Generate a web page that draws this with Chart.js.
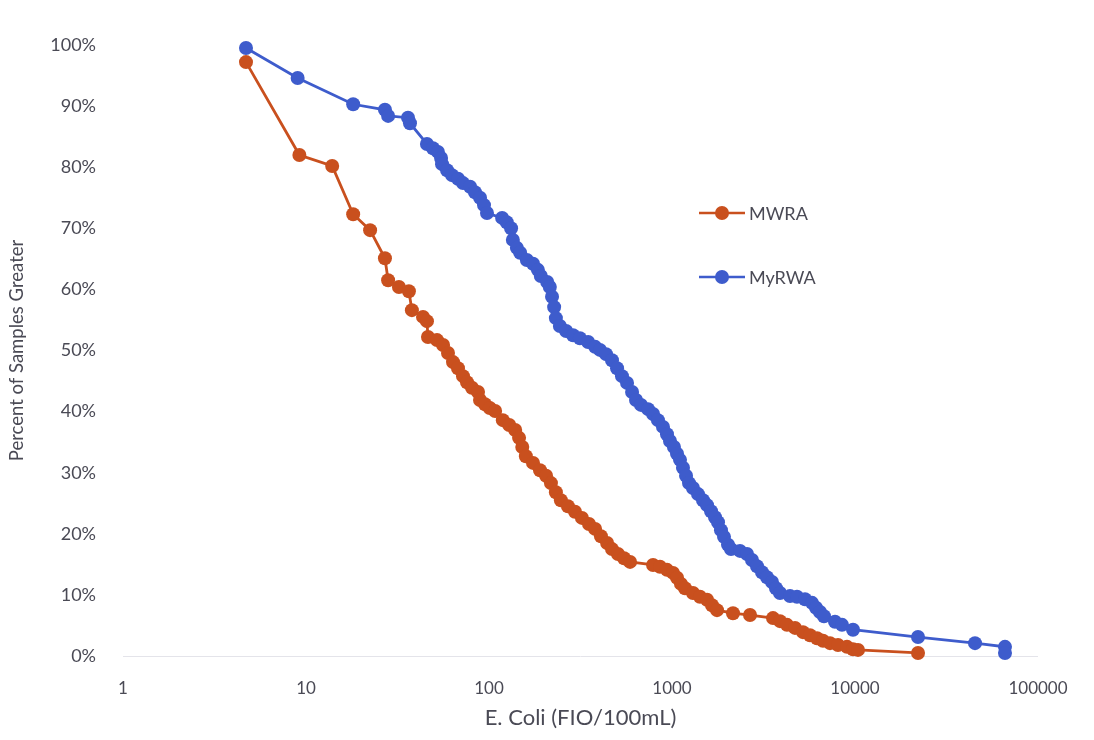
<!DOCTYPE html>
<html>
<head>
<meta charset="utf-8">
<script src="https://cdn.jsdelivr.net/npm/chart.js@4.4.1/dist/chart.umd.min.js"></script>
<style>
  html, body { margin: 0; padding: 0; background: #fff; }
  #wrap { width: 1094px; height: 740px; }
</style>
</head>
<body>
<div id="wrap"><canvas id="ecoli-chart" width="1094" height="740"></canvas></div>
<script>
// E. coli exceedance curves: share of samples above each concentration
const mwraColor = '#c9501e';
const myrwaColor = '#3e5ccc';

const xTicks = [1, 10, 100, 1000, 10000, 100000];

const mwraConc = [4.7, 9.2, 13.9, 18.1, 22.4, 27, 28.1, 32.2, 36.5, 37.9, 43.6, 45.8, 46.4, 52, 56.1, 59.7,
  63.6, 67.7, 72.1, 75.8, 80.7, 87.1, 89.3, 95.1, 101, 108, 119, 129, 139, 146, 152, 159, 174, 190, 205,
  218, 232, 247, 270, 295, 322, 352, 380, 409, 442, 470, 507, 547, 590, 788, 860, 939, 1013, 1065, 1120,
  1178, 1302, 1422, 1554, 1654, 1762, 2154, 2669, 3564, 3893, 4250, 4700, 5197, 5677, 6200, 6686, 7302,
  8074, 9045, 9752, 10385, 22100];
const mwraPct = [97.2, 82.0, 80.2, 72.3, 69.7, 65.1, 61.5, 60.4, 59.7, 56.6, 55.5, 54.8, 52.2, 51.7, 50.9, 49.6,
  48.1, 47.1, 45.8, 44.8, 43.9, 43.2, 41.9, 41.2, 40.6, 40.1, 38.6, 37.8, 37.0, 35.7, 34.2, 32.7, 31.6, 30.4, 29.5,
  28.3, 26.8, 25.5, 24.5, 23.6, 22.6, 21.6, 20.8, 19.6, 18.5, 17.5, 16.7, 16.0, 15.4, 14.9, 14.6, 14.1, 13.6, 12.8, 11.8,
  11.1, 10.3, 9.7, 9.2, 8.3, 7.5, 7.0, 6.7, 6.2, 5.7, 5.1, 4.6, 3.9, 3.4, 2.9, 2.5, 2.1,
  1.8, 1.5, 1.1, 1.0, 0.5];

const myrwaConc = [4.7, 9.0, 18.1, 27, 28.1, 36.1, 37, 45.8, 49.4, 52.6, 54.7, 55.4, 59, 62.8, 67.7, 72.1,
  78.8, 83.8, 89.3, 93.9, 97.5, 118, 125, 132, 135, 142, 148, 161, 174, 185, 192, 208, 215, 221, 227,
  232, 244, 264, 288, 314, 348, 380, 404, 436, 470, 501, 533, 568, 605, 636, 677, 740, 788, 838, 893,
  939, 975, 1025, 1065, 1106, 1148, 1193, 1239, 1302, 1387, 1477, 1554, 1634, 1718, 1784, 1852, 1924,
  2023, 2101, 2353, 2570, 2736, 2914, 3103, 3304, 3519, 3700, 3893, 4415, 4821, 5332, 5821, 6121, 6437,
  6768, 7778, 8492, 9752, 22100, 45270, 66000, 66000];
const myrwaPct = [99.5, 94.6, 90.3, 89.4, 88.4, 88.1, 87.2, 83.8, 83.1, 82.5, 81.5, 80.5, 79.5, 78.7, 78.1, 77.4,
  76.8, 75.9, 75.0, 73.8, 72.5, 71.7, 71.0, 70.0, 68.1, 66.8, 66.0, 64.8, 64.2, 63.2, 62.2, 61.2, 60.4, 58.8, 57.1,
  55.3, 54.0, 53.2, 52.5, 52.0, 51.4, 50.6, 50.1, 49.4, 48.4, 47.1, 45.8, 44.7, 43.2, 41.9, 41.1, 40.4, 39.6, 38.6, 37.5,
  36.3, 35.2, 34.2, 33.1, 32.1, 30.8, 29.5, 28.3, 27.5, 26.5, 25.5, 24.7, 23.7, 22.7, 21.9, 20.6, 19.5,
  18.2, 17.5, 17.2, 16.7, 15.7, 14.7, 13.7, 12.9, 12.1, 11.1, 10.3, 9.8, 9.7, 9.3, 8.7, 7.9, 7.2,
  6.5, 5.6, 5.1, 4.3, 3.1, 2.1, 1.5, 0.5];

const toPoints = (xs, ys) => xs.map((x, i) => ({ x: x, y: ys[i] }));

const fontFamily = "Lato, 'Open Sans', sans-serif";
const textColor = '#4a4a55';

// legend sits inside the plot area, to the right of the curves
const innerLegend = {
  id: 'innerLegend',
  afterDraw(chart) {
    const ctx = chart.ctx;
    const rows = [213, 277];
    chart.data.datasets.forEach((ds, i) => {
      const y = rows[i];
      ctx.save();
      ctx.strokeStyle = ds.borderColor;
      ctx.lineWidth = 2.5;
      ctx.beginPath();
      ctx.moveTo(699, y);
      ctx.lineTo(745, y);
      ctx.stroke();
      ctx.fillStyle = ds.backgroundColor;
      ctx.beginPath();
      ctx.arc(722, y, 7, 0, Math.PI * 2);
      ctx.fill();
      ctx.fillStyle = textColor;
      ctx.font = '18px ' + fontFamily;
      ctx.textBaseline = 'middle';
      ctx.fillText(ds.label, 749, y + 1);
      ctx.restore();
    });
  }
};

const ctx = document.getElementById('ecoli-chart').getContext('2d');

const chart = new Chart(ctx, {
  type: 'line',
  data: {
    datasets: [
      {
        label: 'MWRA',
        data: toPoints(mwraConc, mwraPct),
        borderColor: mwraColor,
        backgroundColor: mwraColor,
        borderWidth: 2.8,
        pointRadius: 7,
        pointBorderWidth: 0,
        tension: 0,
        clip: 10
      },
      {
        label: 'MyRWA',
        data: toPoints(myrwaConc, myrwaPct),
        borderColor: myrwaColor,
        backgroundColor: myrwaColor,
        borderWidth: 2.8,
        pointRadius: 7,
        pointBorderWidth: 0,
        tension: 0,
        clip: 10
      }
    ]
  },
  options: {
    responsive: false,
    animation: false,
    layout: { padding: { top: 45, right: 56, bottom: 0, left: 6 } },
    plugins: {
      legend: { display: false },
      tooltip: { enabled: false }
    },
    scales: {
      x: {
        type: 'logarithmic',
        min: 1,
        max: 100000,
        afterBuildTicks: (scale) => {
          scale.ticks = xTicks.map(v => ({ value: v }));
        },
        afterFit: (scale) => { scale.height = 84; },
        grid: { display: false },
        border: { display: false },
        ticks: {
          autoSkip: false,
          maxRotation: 0,
          padding: 14,
          color: textColor,
          font: { family: fontFamily, size: 17 },
          callback: (v) => String(v)
        },
        title: {
          display: true,
          text: 'E. Coli (FIO/100mL)',
          color: textColor,
          font: { family: fontFamily, size: 22 },
          padding: { top: 4, bottom: 9 }
        }
      },
      y: {
        min: 0,
        max: 100,
        afterFit: (scale) => { scale.width = 117; },
        grid: {
          drawTicks: false,
          color: (c) => (c.tick && c.tick.value === 0 ? '#e4e4ea' : 'rgba(0,0,0,0)')
        },
        border: { display: false },
        ticks: {
          stepSize: 10,
          padding: 27,
          color: textColor,
          font: { family: fontFamily, size: 18 },
          callback: (v) => v + '%'
        },
        title: {
          display: true,
          text: 'Percent of Samples Greater',
          color: textColor,
          font: { family: fontFamily, size: 18.5 },
          padding: { top: 0, bottom: 2 }
        }
      }
    }
  },
  plugins: [innerLegend]
});
</script>
</body>
</html>
